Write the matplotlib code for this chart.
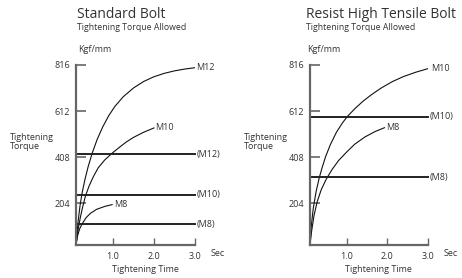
import matplotlib
matplotlib.use("Agg")
import matplotlib.pyplot as plt

plt.rcParams["font.family"] = ["Open Sans", "DejaVu Sans"]

# Standard bolt (left panel): curves (time in sec, torque)
std_m12_t = [0.10, 0.15, 0.20, 0.25, 0.32, 0.40, 0.50, 0.62, 0.75, 0.90,
             1.05, 1.25, 1.50, 1.75, 2.00, 2.25, 2.50, 2.75, 3.00]
std_m12_v = [18, 120, 195, 250, 310, 368, 428, 488, 541, 592,
             633, 675, 714, 743, 764, 779, 790, 798, 804]
std_m10_t = [0.10, 0.15, 0.20, 0.26, 0.33, 0.42, 0.52, 0.64, 0.80, 0.98,
             1.15, 1.32, 1.50, 1.75, 2.00]
std_m10_v = [18, 85, 135, 185, 235, 280, 320, 360, 395, 425,
             450, 474, 495, 518, 537]
std_m8_t = [0.10, 0.14, 0.19, 0.25, 0.35, 0.45, 0.60, 0.80, 0.98]
std_m8_v = [18, 60, 90, 112, 140, 158, 176, 189, 197]
std_limits = [421, 240, 110]
std_limit_labels = ["(M12)", "(M10)", "(M8)"]

# Resist high tensile bolt (right panel)
hi_m10_t = [0.10, 0.13, 0.18, 0.25, 0.33, 0.40, 0.48, 0.60, 0.75, 0.90,
            1.02, 1.20, 1.40, 1.60, 1.85, 2.12, 2.40, 2.70, 3.00]
hi_m10_v = [18, 100, 180, 255, 318, 362, 408, 463, 518, 560,
            588, 622, 655, 683, 714, 742, 765, 784, 800]
hi_m8_t = [0.10, 0.14, 0.20, 0.28, 0.38, 0.50, 0.64, 0.80, 1.00, 1.20,
           1.45, 1.70, 1.93]
hi_m8_v = [18, 80, 150, 212, 265, 310, 352, 392, 430, 465,
           497, 521, 538]
hi_limits = [587, 318]
hi_limit_labels = ["(M10)", "(M8)"]

y_ticks = [204, 408, 612, 816]
x_ticks = [1.0, 2.0, 3.0]

W, H = 462, 278
TXT = "#333333"
AX = "#666666"


def px(x, y):
    return x / W, 1 - y / H


def setup_axes(ax):
    ax.set_xlim(0.1, 3.0)
    ax.set_ylim(18, 816)
    for s in ["top", "right"]:
        ax.spines[s].set_visible(False)
    for s in ["left", "bottom"]:
        ax.spines[s].set_color(AX)
        ax.spines[s].set_linewidth(1.6)
    ax.set_yticks(y_ticks)
    ax.set_yticklabels([str(v) for v in y_ticks])
    ax.set_xticks(x_ticks)
    ax.set_xticklabels([f"{v:.1f}" for v in x_ticks])
    ax.tick_params(axis="y", direction="in", length=7, width=1.2, color=AX,
                   labelsize=6.5, labelcolor=TXT, pad=4)
    ax.tick_params(axis="x", direction="in", length=5, width=1.0, color=AX,
                   labelsize=6.5, labelcolor=TXT, pad=5)
    ax.patch.set_alpha(0)


fig = plt.figure(figsize=(W / 100, H / 100), dpi=100)

# left panel
ax1 = fig.add_axes([76 / W, 1 - 245 / H, 119 / W, 180 / H])
setup_axes(ax1)
ax1.plot(std_m12_t, std_m12_v, color="#111111", lw=0.8)
ax1.plot(std_m10_t, std_m10_v, color="#111111", lw=0.8)
ax1.plot(std_m8_t, std_m8_v, color="#111111", lw=0.8)
for v, lab in zip(std_limits, std_limit_labels):
    ax1.plot([0.1, 3.0], [v, v], color="#222222", lw=1.4, clip_on=False)
    ax1.text(3.03, v, lab, fontsize=6.5, color=TXT, va="center", ha="left")
ax1.text(3.03, std_m12_v[-1], "M12", fontsize=6.5, color=TXT, va="center", ha="left")
ax1.text(2.04, std_m10_v[-1], "M10", fontsize=6.5, color=TXT, va="center", ha="left")
ax1.text(1.04, std_m8_v[-1], "M8", fontsize=6.5, color=TXT, va="center", ha="left")

# right panel
ax2 = fig.add_axes([310 / W, 1 - 245 / H, 118 / W, 180 / H])
setup_axes(ax2)
ax2.plot(hi_m10_t, hi_m10_v, color="#111111", lw=0.8)
ax2.plot(hi_m8_t, hi_m8_v, color="#111111", lw=0.8)
for v, lab in zip(hi_limits, hi_limit_labels):
    ax2.plot([0.1, 3.0], [v, v], color="#222222", lw=1.4, clip_on=False)
    ax2.text(3.03, v, lab, fontsize=6.5, color=TXT, va="center", ha="left")
ax2.text(3.08, hi_m10_v[-1], "M10", fontsize=6.5, color=TXT, va="center", ha="left")
ax2.text(1.97, hi_m8_v[-1], "M8", fontsize=6.5, color=TXT, va="center", ha="left")

# titles and labels
for x0, title in [(77, "Standard Bolt"), (306, "Resist High Tensile Bolt")]:
    fig.text(*px(x0, 14), title, fontsize=10, color=TXT, va="center", ha="left")
    fig.text(*px(x0, 28), "Tightening Torque Allowed", fontsize=6.3, color=TXT,
             va="center", ha="left")
    fig.text(*px(x0 + 1, 50), "Kgf/mm", fontsize=6.5, color=TXT, va="center", ha="left")

for x0, xs, xc in [(10, 211, 145), (244, 444, 378)]:
    fig.text(*px(x0, 142), "Tightening\nTorque", fontsize=6.5, color=TXT,
             va="center", ha="left", linespacing=1.1)
    fig.text(*px(xs, 253), "Sec", fontsize=6.5, color=TXT, va="center", ha="left")
    fig.text(*px(xc, 270), "Tightening Time", fontsize=6.5, color=TXT,
             va="center", ha="center")

fig.savefig("out.png", dpi=100)
